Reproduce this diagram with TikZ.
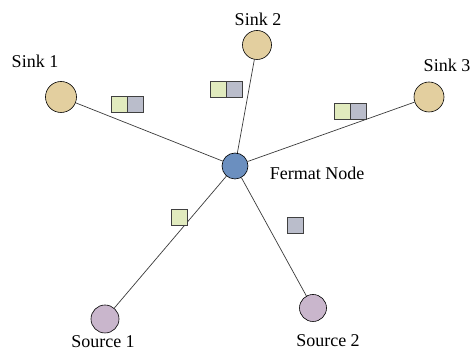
\documentclass[tikz,border=0pt]{standalone}
\usepackage{fontspec}
\setmainfont{Liberation Serif}
\usetikzlibrary{positioning}
\definecolor{sinkfill}{HTML}{E3CF9F}
\definecolor{fermatfill}{HTML}{6B8FBF}
\definecolor{sourcefill}{HTML}{C9B6CC}
\definecolor{pktgreen}{HTML}{E1EBBE}
\definecolor{pktgray}{HTML}{BABDCB}
\definecolor{linkgray}{HTML}{3A3A3A}

\begin{document}
\begin{tikzpicture}[x=1pt,y=-1pt,
    dot/.style={circle,draw=black,line width=0.6pt,inner sep=0pt},
    sinkdot/.style={dot,fill=sinkfill,minimum size=31pt},
    sourcedot/.style={dot,fill=sourcefill,minimum size=28pt},
    fermatdot/.style={dot,fill=fermatfill,minimum size=26pt},
    pkt/.style={draw=black!75,line width=0.9pt,minimum size=16pt,inner sep=0pt},
    lbl/.style={font=\fontsize{18}{20}\selectfont,inner sep=0pt},
    link/.style={draw=linkgray,line width=0.7pt}]
  \useasboundingbox (0,0) rectangle (472,352);
  % end points
  \node[sinkdot](S1)at(61,97){};
  \node[sinkdot,minimum size=29pt](S2)at(257,45){};
  \node[sinkdot,minimum size=30pt](S3)at(429,97){};
  \node[fermatdot](F)at(235,166){};
  \node[sourcedot](R1)at(105,319){};
  \node[sourcedot,minimum size=27pt](R2)at(313,308){};
  % links
  \foreach \P in {S1,S2,S3,R1,R2}{
    \draw[link](F)--(\P);
  }
  % labels
  \foreach \N/\T/\X/\Y in {l1/Sink 1/35/61, l2/Sink 2/258/19, l3/Sink 3/447/65,
      lf/Fermat Node/317/173, l4/Source 1/103/342, l5/Source 2/328/341}{
    \node[lbl](\N)at(\X,\Y){\T};
  }
  % packets
  \foreach \N/\X/\Y in {a/119/104.5, b/218/89.5, c/342/111.5}{
    \node[pkt,fill=pktgreen](\N g)at(\X,\Y){};
    \node[pkt,fill=pktgray,right=0pt of \N g](\N r){};
  }
  \node[pkt,fill=pktgreen](d)at(179.5,217.5){};
  \node[pkt,fill=pktgray](e)at(295,225){};
\end{tikzpicture}
\end{document}
